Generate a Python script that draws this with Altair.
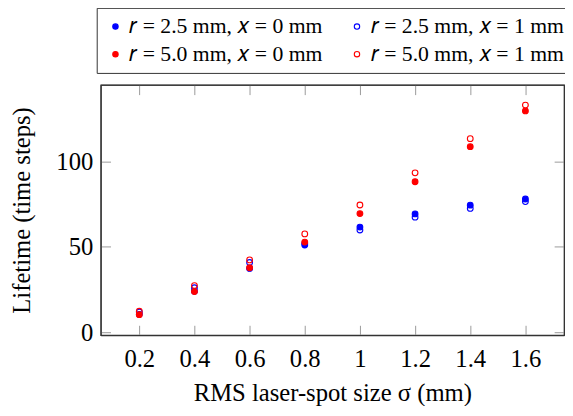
import altair as alt
import pandas as pd

sigma = [0.2, 0.4, 0.6, 0.8, 1.0, 1.2, 1.4, 1.6]
r25_x0 = [10.5, 24.0, 37.3, 51.0, 61.5, 69.2, 74.3, 77.9]
r25_x1 = [11.8, 26.0, 40.8, 52.0, 59.8, 67.3, 72.4, 76.4]
r50_x0 = [10.3, 23.8, 37.7, 52.7, 69.4, 88.0, 108.5, 129.4]
r50_x1 = [12.3, 27.3, 42.3, 57.5, 74.4, 93.2, 113.2, 132.8]

series_names = [
    "𝑟 = 2.5 mm, 𝑥 = 0 mm",
    "𝑟 = 2.5 mm, 𝑥 = 1 mm",
    "𝑟 = 5.0 mm, 𝑥 = 0 mm",
    "𝑟 = 5.0 mm, 𝑥 = 1 mm",
]
draw_order = [0, 1, 2, 3]
# legend fills column by column, so list entries column-wise
legend_domain = [series_names[0], series_names[2], series_names[1], series_names[3]]
stroke_by_series = {series_names[0]: "#0000ff", series_names[1]: "#0000ff",
                    series_names[2]: "#ff0000", series_names[3]: "#ff0000"}
fill_by_series = {series_names[0]: "#0000ff", series_names[1]: "transparent",
                  series_names[2]: "#ff0000", series_names[3]: "transparent"}

x_ticks = [0.2, 0.4, 0.6, 0.8, 1.0, 1.2, 1.4, 1.6]
y_ticks = [0, 50, 100]

rows = []
for k, (name, vals) in enumerate(zip(series_names, [r25_x0, r25_x1, r50_x0, r50_x1])):
    for s, v in zip(sigma, vals):
        rows.append({"sigma": s, "lifetime": v, "series": name, "k": draw_order[k]})
df = pd.DataFrame(rows)

FONT = "Liberation Serif"
xdom = [0.06, 1.74]
ydom = [-1.7, 144.7]

legend_kw = dict(title=None, orient="none", legendX=-4, legendY=-78,
                 columns=2, columnPadding=24, rowPadding=6, labelLimit=400,
                 symbolType="circle", symbolSize=30, symbolStrokeWidth=1.1,
                 labelFont=FONT, labelFontSize=22, labelOffset=3, labelColor="black",
                 strokeColor="#333", fillColor="white", padding=8)

x_main = alt.X("sigma:Q", scale=alt.Scale(domain=xdom, nice=False, zero=False),
               axis=alt.Axis(values=x_ticks, format="~g", title="RMS laser-spot size σ (mm)",
                             tickSize=alt.expr("-10"), labelPadding=22, titlePadding=9))
y_main = alt.Y("lifetime:Q", scale=alt.Scale(domain=ydom, nice=False, zero=False),
               axis=alt.Axis(values=y_ticks, title="Lifetime (time steps)",
                             tickSize=alt.expr("-10"), labelPadding=18, titlePadding=22))

points = alt.Chart(df).mark_point(size=34, strokeWidth=1.1, opacity=1).encode(
    x=x_main,
    y=y_main,
    stroke=alt.Stroke("series:N",
                      scale=alt.Scale(domain=legend_domain,
                                      range=[stroke_by_series[n] for n in legend_domain]),
                      legend=alt.Legend(**legend_kw)),
    fill=alt.Fill("series:N",
                  scale=alt.Scale(domain=legend_domain,
                                  range=[fill_by_series[n] for n in legend_domain]),
                  legend=alt.Legend(**legend_kw)),
    order=alt.Order("k:Q"),
)

frame = alt.Chart(df).mark_point(opacity=0).encode(
    x=alt.X("sigma:Q", scale=alt.Scale(domain=xdom, nice=False, zero=False),
            axis=alt.Axis(orient="top", values=x_ticks, labels=False, title=None,
                          tickSize=alt.expr("-10"))),
    y=alt.Y("lifetime:Q", scale=alt.Scale(domain=ydom, nice=False, zero=False),
            axis=alt.Axis(orient="right", values=y_ticks, labels=False, title=None,
                          tickSize=alt.expr("-10"))),
)

chart = alt.layer(frame, points).resolve_scale(x="independent", y="independent").properties(
    width=470, height=254,
    autosize=alt.AutoSizeParams(type="none"),
    padding={"left": 94, "top": 75, "right": 1, "bottom": 69},
).configure_axis(
    grid=False,
    labelFont=FONT, titleFont=FONT,
    labelFontSize=25, titleFontSize=25, titleFontWeight="normal",
    labelColor="black", titleColor="black",
    domainColor="#333", domainWidth=1.2,
    tickColor="#999", tickWidth=1,
).configure_view(stroke="#333", strokeWidth=1.2)

chart.save("out.html", embed_options={"renderer": "svg", "actions": False})
